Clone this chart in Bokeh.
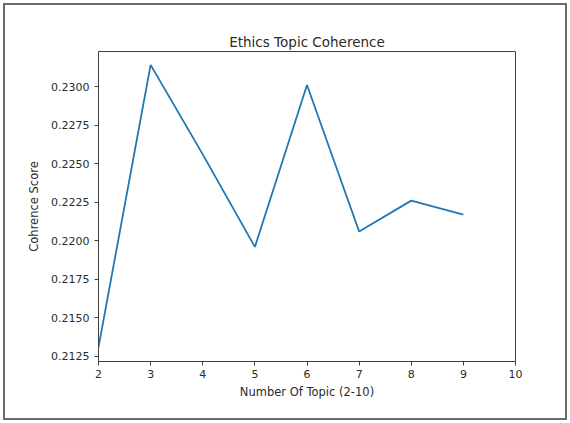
from bokeh.plotting import figure
from bokeh.models import FixedTicker, NumeralTickFormatter, Range1d
from bokeh.embed import file_html
from bokeh.resources import INLINE

# data
topics = [2, 3, 4, 5, 6, 7, 8, 9]
coherence = [0.2131, 0.2314, 0.2256, 0.2196, 0.2301, 0.2206, 0.2226, 0.2217]
x_ticks = [2, 3, 4, 5, 6, 7, 8, 9, 10]
y_ticks = [0.2125, 0.2150, 0.2175, 0.2200, 0.2225, 0.2250, 0.2275, 0.2300]

FONT = "DejaVu Sans"
TXT = "#2b2b2b"

p = figure(width=560, height=413, output_backend="svg", toolbar_location=None,
           frame_width=417, frame_height=310,
           min_border_left=93, min_border_right=50, min_border_top=46, min_border_bottom=57,
           x_range=Range1d(2, 10), y_range=Range1d(0.21217, 0.23227),
           title="Ethics Topic Coherence",
           styles={"margin-left": "3px", "margin-top": "3px", "border": "2px solid #6a6a6a"})

p.line(topics, coherence, line_color="#1f77b4", line_width=1.8)

p.title.align = "center"
p.title.text_font = FONT
p.title.text_font_size = "13.5px"
p.title.text_font_style = "normal"
p.title.text_color = TXT
p.title.standoff = 4

p.xgrid.visible = False
p.ygrid.visible = False
p.outline_line_color = "#404040"
p.outline_line_width = 1
p.background_fill_color = "white"
p.border_fill_color = "white"

p.xaxis.ticker = FixedTicker(ticks=x_ticks)
p.yaxis.ticker = FixedTicker(ticks=y_ticks)
p.yaxis.formatter = NumeralTickFormatter(format="0.0000")
p.xaxis.axis_label = "Number Of Topic (2-10)"
p.yaxis.axis_label = "Cohrence Score"

for ax in (p.xaxis, p.yaxis):
    ax.axis_line_color = "#404040"
    ax.major_tick_line_color = "#404040"
    ax.major_tick_out = 4
    ax.major_tick_in = 0
    ax.minor_tick_line_color = None
    ax.major_label_text_font = FONT
    ax.major_label_text_font_size = "11px"
    ax.major_label_text_color = TXT
    ax.axis_label_text_font = FONT
    ax.axis_label_text_font_size = "11.5px"
    ax.axis_label_text_font_style = "normal"
    ax.axis_label_text_color = TXT

p.xaxis.major_label_standoff = 4
p.xaxis.axis_label_standoff = 4
p.yaxis.major_label_standoff = 5
p.yaxis.axis_label_standoff = 7

open("out.html", "w").write(file_html(p, INLINE))
